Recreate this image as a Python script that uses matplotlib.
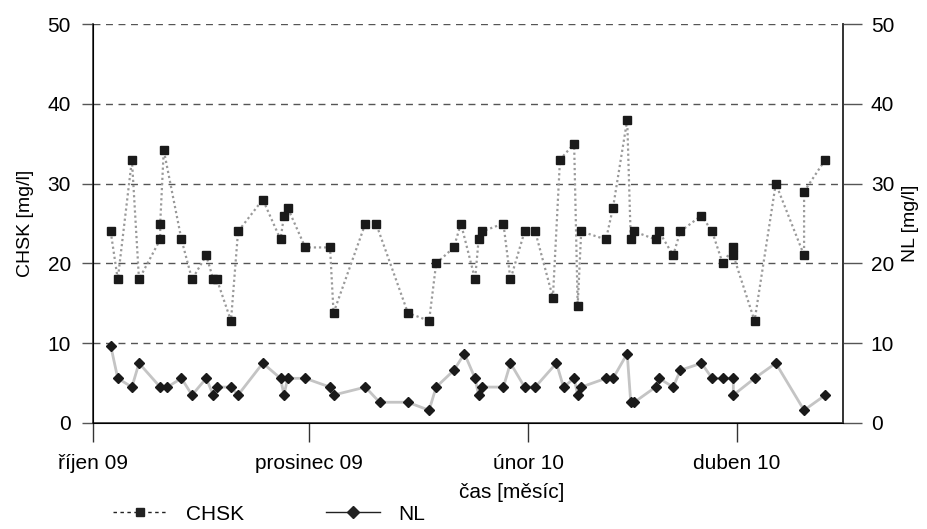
import pandas as pd
import matplotlib.pyplot as plt
from matplotlib.lines import Line2D

plt.rcParams['font.family'] = ['Liberation Sans', 'DejaVu Sans']

# CHSK data (dates, mg/l)
chsk_dates = ['2009-10-06', '2009-10-08', '2009-10-12', '2009-10-14', '2009-10-20', '2009-10-20',
              '2009-10-21', '2009-10-26', '2009-10-29', '2009-11-02', '2009-11-04', '2009-11-05',
              '2009-11-09', '2009-11-11', '2009-11-18', '2009-11-23', '2009-11-24', '2009-11-25',
              '2009-11-30', '2009-12-07', '2009-12-08', '2009-12-17', '2009-12-20', '2009-12-29',
              '2010-01-04', '2010-01-06', '2010-01-11', '2010-01-13', '2010-01-17', '2010-01-18',
              '2010-01-19', '2010-01-25', '2010-01-27', '2010-01-31', '2010-02-03', '2010-02-08',
              '2010-02-10', '2010-02-14', '2010-02-15', '2010-02-16', '2010-02-23', '2010-02-25',
              '2010-03-01', '2010-03-02', '2010-03-03', '2010-03-09', '2010-03-10', '2010-03-14',
              '2010-03-16', '2010-03-22', '2010-03-25', '2010-03-28', '2010-03-31', '2010-03-31',
              '2010-04-06', '2010-04-12', '2010-04-20', '2010-04-20', '2010-04-26']
chsk_values = [24, 18, 33, 18, 23, 25,
               34.2, 23, 18, 21, 18, 18,
               12.8, 24, 28, 23, 26, 27,
               22, 22, 13.8, 25, 25, 13.8,
               12.8, 20, 22, 25, 18, 23,
               24, 25, 18, 24, 24, 15.7,
               33, 35, 14.7, 24, 23, 27,
               38, 23, 24, 23, 24, 21,
               24, 26, 24, 20, 22, 21,
               12.8, 30, 21, 29, 33]

# NL data (dates, mg/l)
nl_dates = ['2009-10-06', '2009-10-08', '2009-10-12', '2009-10-14', '2009-10-20', '2009-10-22',
            '2009-10-26', '2009-10-29', '2009-11-02', '2009-11-04', '2009-11-05', '2009-11-09',
            '2009-11-11', '2009-11-18', '2009-11-23', '2009-11-24', '2009-11-25', '2009-11-30',
            '2009-12-07', '2009-12-08', '2009-12-17', '2009-12-21', '2009-12-29', '2010-01-04',
            '2010-01-06', '2010-01-11', '2010-01-14', '2010-01-17', '2010-01-18', '2010-01-19',
            '2010-01-25', '2010-01-27', '2010-01-31', '2010-02-03', '2010-02-09', '2010-02-11',
            '2010-02-14', '2010-02-15', '2010-02-16', '2010-02-23', '2010-02-25', '2010-03-01',
            '2010-03-02', '2010-03-03', '2010-03-09', '2010-03-10', '2010-03-14', '2010-03-16',
            '2010-03-22', '2010-03-25', '2010-03-28', '2010-03-31', '2010-03-31', '2010-04-06',
            '2010-04-12', '2010-04-20', '2010-04-26']
nl_values = [9.7, 5.6, 4.5, 7.5, 4.5, 4.5,
             5.6, 3.5, 5.6, 3.5, 4.5, 4.5,
             3.5, 7.5, 5.6, 3.5, 5.6, 5.6,
             4.5, 3.5, 4.5, 2.6, 2.6, 1.6,
             4.5, 6.6, 8.7, 5.6, 3.5, 4.5,
             4.5, 7.5, 4.5, 4.5, 7.5, 4.5,
             5.6, 3.5, 4.5, 5.6, 5.6, 8.7,
             2.6, 2.6, 4.5, 5.6, 4.5, 6.6,
             7.5, 5.6, 5.6, 5.6, 3.5, 5.6,
             7.5, 1.6, 3.5]

x_ticks = ['2009-10-01', '2009-12-01', '2010-02-01', '2010-04-01']
x_tick_labels = ['říjen 09', 'prosinec 09', 'únor 10', 'duben 10']
y_ticks = [0, 10, 20, 30, 40, 50]

fig = plt.figure(figsize=(9.28, 5.29), dpi=100)
ax = fig.add_axes([93 / 928, 1 - 423 / 529, 750 / 928, 399 / 529])

# CHSK - tečkovaná šedá čára, černé čtverce
ax.plot(pd.to_datetime(chsk_dates), chsk_values, color='#9a9a9a', linestyle=(0, (1, 1.3)),
        linewidth=1.6, marker='s', markersize=6, markerfacecolor='#1a1a1a',
        markeredgecolor='#1a1a1a', zorder=3)
# NL - plná světle šedá čára, černé kosočtverce
ax.plot(pd.to_datetime(nl_dates), nl_values, color='#c4c4c4', linestyle='-',
        linewidth=2, marker='D', markersize=5.5, markerfacecolor='#1a1a1a',
        markeredgecolor='#1a1a1a', zorder=3)

ax.set_xlim(pd.Timestamp('2009-10-01'), pd.Timestamp('2010-05-01'))
ax.set_ylim(0, 50)
ax.set_xticks(pd.to_datetime(x_ticks))
ax.set_xticklabels(x_tick_labels, fontsize=15)
ax.set_yticks(y_ticks)
ax.tick_params(axis='y', labelsize=15, length=8, width=1, color='#555555', pad=8)
ax.tick_params(axis='x', length=14, width=1, color='#333333', pad=8)

for y in y_ticks[1:]:
    ax.axhline(y, color='#555555', linewidth=1, linestyle=(0, (5, 4)), zorder=1)

ax.spines['top'].set_visible(False)
for s in ['left', 'right', 'bottom']:
    ax.spines[s].set_color('#333333')
    ax.spines[s].set_linewidth(1.2)

ax.set_ylabel('CHSK [mg/l]', fontsize=14, labelpad=10)
ax.set_xlabel('čas [měsíc]', fontsize=15, labelpad=4)
ax.xaxis.set_label_coords((512 - 93) / 750, -0.15)

# pravá osa NL
ax2 = ax.twinx()
ax2.set_ylim(0, 50)
ax2.set_yticks(y_ticks)
ax2.tick_params(axis='y', labelsize=15, length=14, width=1, color='#555555', pad=6)
ax2.spines['top'].set_visible(False)
ax2.spines['right'].set_color('#333333')
ax2.spines['right'].set_linewidth(1.2)
ax2.set_ylabel('NL [mg/l]', fontsize=14, labelpad=6)

handles = [
    Line2D([], [], color='#222222', linestyle=(0, (2.5, 2.5)), linewidth=1, marker='s',
           markersize=6, markerfacecolor='#222222'),
    Line2D([], [], color='#222222', linestyle='-', linewidth=1, marker='D',
           markersize=6, markerfacecolor='#222222'),
]
fig.legend(handles, ['CHSK', 'NL'], loc='center left', bbox_to_anchor=(105 / 928, 1 - 514 / 529),
           ncol=2, frameon=False, fontsize=15, handlelength=2.6, handletextpad=0.9,
           columnspacing=3.9, borderaxespad=0)

fig.savefig('out.png', dpi=100)
